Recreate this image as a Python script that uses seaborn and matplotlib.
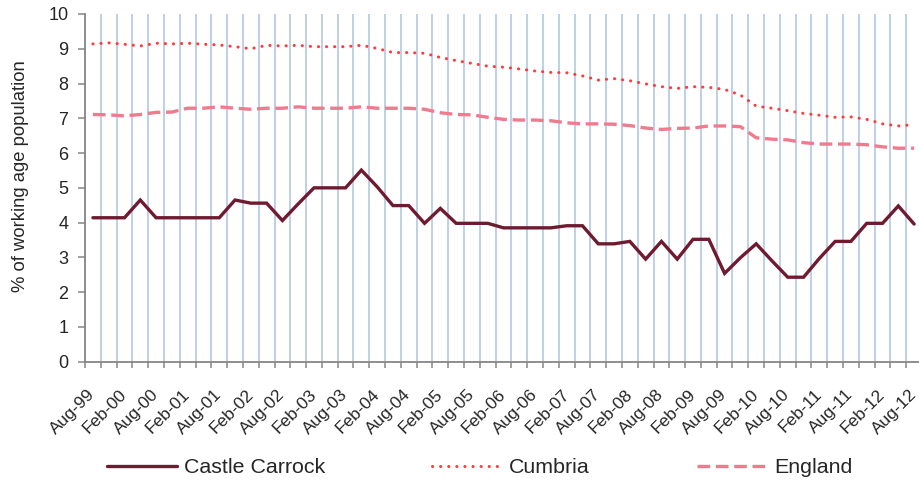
import numpy as np
import pandas as pd
import matplotlib
matplotlib.use("Agg")
import matplotlib.pyplot as plt
import seaborn as sns

# ---- data (quarterly, Aug-99 .. Aug-12) ----
tick_labels = ["Aug-99", "Feb-00", "Aug-00", "Feb-01", "Aug-01", "Feb-02", "Aug-02",
               "Feb-03", "Aug-03", "Feb-04", "Aug-04", "Feb-05", "Aug-05", "Feb-06",
               "Aug-06", "Feb-07", "Aug-07", "Feb-08", "Aug-08", "Feb-09", "Aug-09",
               "Feb-10", "Aug-10", "Feb-11", "Aug-11", "Feb-12", "Aug-12"]

castle_carrock = [4.14, 4.14, 4.14, 4.65, 4.14, 4.14, 4.14, 4.14, 4.14, 4.65,
                  4.56, 4.56, 4.06, 4.54, 5.00, 5.00, 5.00, 5.51, 5.03, 4.49,
                  4.49, 3.98, 4.41, 3.98, 3.98, 3.98, 3.85, 3.85, 3.85, 3.85,
                  3.91, 3.91, 3.39, 3.39, 3.46, 2.95, 3.46, 2.95, 3.52, 3.52,
                  2.54, 2.99, 3.39, 2.90, 2.43, 2.43, 2.97, 3.46, 3.46, 3.98,
                  3.98, 4.48, 3.96]
cumbria = [9.14, 9.17, 9.13, 9.08, 9.16, 9.14, 9.16, 9.13, 9.11, 9.06,
           9.00, 9.10, 9.08, 9.10, 9.06, 9.06, 9.06, 9.10, 9.01, 8.89,
           8.89, 8.87, 8.75, 8.66, 8.58, 8.50, 8.47, 8.42, 8.36, 8.32,
           8.31, 8.22, 8.10, 8.14, 8.08, 7.99, 7.91, 7.86, 7.91, 7.89,
           7.83, 7.67, 7.35, 7.29, 7.22, 7.14, 7.09, 7.03, 7.04, 6.97,
           6.84, 6.78, 6.82]
england = [7.11, 7.10, 7.07, 7.11, 7.17, 7.18, 7.29, 7.29, 7.33, 7.29,
           7.26, 7.29, 7.29, 7.33, 7.29, 7.29, 7.29, 7.33, 7.29, 7.29,
           7.29, 7.26, 7.16, 7.11, 7.10, 7.03, 6.97, 6.95, 6.95, 6.93,
           6.87, 6.84, 6.84, 6.83, 6.79, 6.72, 6.68, 6.71, 6.72, 6.78,
           6.78, 6.76, 6.44, 6.40, 6.38, 6.30, 6.26, 6.26, 6.26, 6.24,
           6.18, 6.14, 6.14]

series_names = ["Castle Carrock", "Cumbria", "England"]
series_values = [castle_carrock, cumbria, england]

# ---- style ----
sns.set_style("white")
plt.rcParams["font.family"] = ["Liberation Sans", "DejaVu Sans"]

colors = {"Castle Carrock": "#701A30", "Cumbria": "#FF3B3B", "England": "#F07A8E"}
lstyles = {"Castle Carrock": "-", "Cumbria": (0, (0.05, 2.6)), "England": (0, (3.8, 1.7))}
lwidths = {"Castle Carrock": 2.4, "Cumbria": 2.2, "England": 2.4}

n = len(castle_carrock)
frames = []
for name, vals in zip(series_names, series_values):
    frames.append(pd.DataFrame({"idx": np.arange(n), "value": vals, "series": name}))
df = pd.concat(frames, ignore_index=True)

fig = plt.figure(figsize=(9.19, 4.86), dpi=100)
ax = fig.add_axes([85 / 919, (486 - 361.7) / 486, 837 / 919, 347.7 / 486])

for name in series_names:
    sub = df[df["series"] == name]
    sns.lineplot(data=sub, x="idx", y="value", ax=ax, color=colors[name],
                 linestyle=lstyles[name], linewidth=lwidths[name], label=name,
                 legend=False, zorder=3)

for line in ax.get_lines():
    line.set_dash_capstyle("round" if line.get_label() == "Cumbria" else "butt")
    line.set_solid_joinstyle("miter")

ax.set_xlim(-0.5, n - 0.5)
ax.set_ylim(0, 10)

# x: labels every second quarter, ticks/gridlines at category boundaries
ax.set_xticks(np.arange(0, n, 2))
ax.set_xticklabels(tick_labels, rotation=45, ha="right", va="center",
                   rotation_mode="anchor", fontsize=12.5)
ax.set_xticks(np.arange(-0.5, n + 0.5, 1), minor=True)
ax.tick_params(axis="x", which="major", length=0, pad=22)
ax.tick_params(axis="x", which="minor", length=4, width=1.1, color="#868686",
               direction="out", bottom=True)
ax.grid(False)
ax.xaxis.grid(True, which="minor", color="#B9CDE5", linewidth=1.3, zorder=0)

ax.set_yticks(np.arange(0, 11, 1))
ax.tick_params(axis="y", which="major", length=5, width=1.1, color="#868686",
               direction="out", left=True, labelsize=13, pad=7)
ax.set_ylabel("% of working age population", fontsize=13.3)
ax.yaxis.set_label_coords((29 - 85) / 837, (361.7 - 176) / 347.7)
ax.set_xlabel("")

for side in ["top", "right"]:
    ax.spines[side].set_visible(False)
for side in ["left", "bottom"]:
    ax.spines[side].set_color("#868686")
    ax.spines[side].set_linewidth(1.3)

handles = ax.get_lines()[:3]
leg = fig.legend(handles, series_names, loc="center", ncol=3,
                 bbox_to_anchor=(0.522, 0.038), frameon=False, fontsize=15.4,
                 handlelength=3.27, handletextpad=0.33, columnspacing=5.0)

fig.savefig("out.png", dpi=100)
